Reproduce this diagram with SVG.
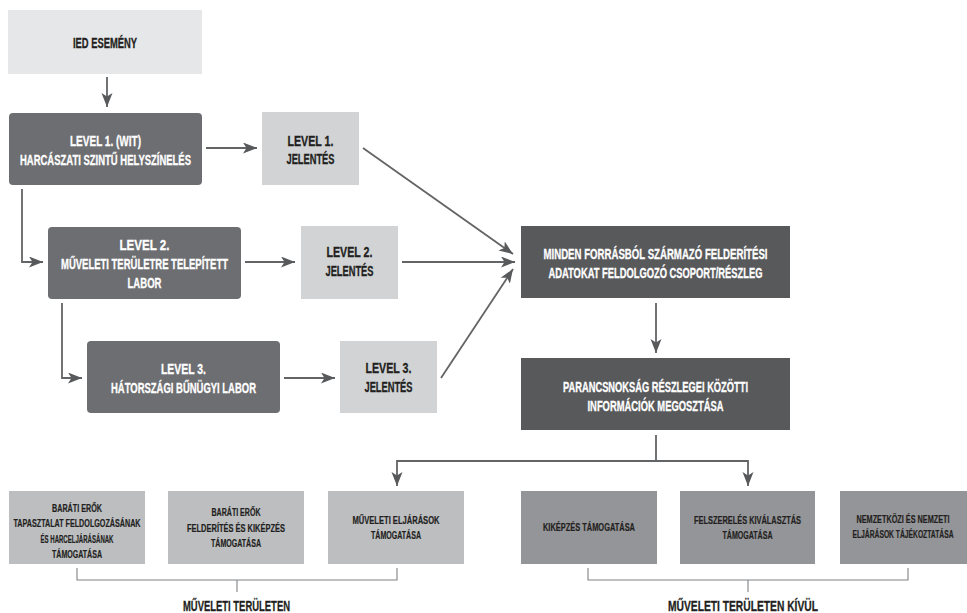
<svg xmlns="http://www.w3.org/2000/svg" width="967" height="613" viewBox="0 0 967 613">
<style>
  text { font-family: "Liberation Sans Narrow", "Liberation Sans", Arial, sans-serif; font-weight: bold; text-anchor: middle; stroke-width: 0.3; }
  .t { font-size: 14px; }
  .s { font-size: 10.5px; fill: #231f20; stroke: #231f20; stroke-width: 0.2; }
  .lab { font-size: 14.5px; fill: #231f20; stroke: #231f20; }
  .w { fill: #ffffff; stroke: #ffffff; }
  .d { fill: #231f20; stroke: #231f20; }
  .ied { fill: #e6e7e8; }
  .lvl { fill: #6d6e71; }
  .rep { fill: #d1d3d4; }
  .main { fill: #58595b; }
  .op { fill: #bcbec0; }
  .out { fill: #939598; }
  .con { fill: none; stroke: #636466; stroke-width: 1.8; }
  .br { fill: none; stroke: #808285; stroke-width: 1.1; }
</style>
<defs>
  <marker id="ah" markerUnits="userSpaceOnUse" markerWidth="15" markerHeight="12" refX="14" refY="5.5" orient="auto">
    <path d="M0,0 L14,5.5 L0,11 L3.5,5.5 z" fill="#58595b"/>
  </marker>
</defs>

<g id="ied">
  <rect class="ied" x="8" y="10" width="194" height="64"/>
  <text class="t d" x="105" y="47.5" textLength="64" lengthAdjust="spacingAndGlyphs">IED ESEMÉNY</text>
</g>

<g id="level1">
  <rect class="lvl" x="9" y="113" width="193" height="72" rx="4"/>
  <text class="t w" x="105.5" y="145.5" textLength="71" lengthAdjust="spacingAndGlyphs">LEVEL 1. (WIT)</text>
  <text class="t w" x="105.5" y="164.5" textLength="171" lengthAdjust="spacingAndGlyphs">HARCÁSZATI SZINTŰ HELYSZÍNELÉS</text>
</g>

<g id="report1">
  <rect class="rep" x="262" y="112" width="97" height="73"/>
  <text class="t d" x="310.5" y="145.5" textLength="46" lengthAdjust="spacingAndGlyphs">LEVEL 1.</text>
  <text class="t d" x="310.5" y="164" textLength="48" lengthAdjust="spacingAndGlyphs">JELENTÉS</text>
</g>

<g id="level2">
  <rect class="lvl" x="48" y="227" width="193" height="72" rx="4"/>
  <text class="t w" x="144.5" y="249.5" textLength="50" lengthAdjust="spacingAndGlyphs">LEVEL 2.</text>
  <text class="t w" x="144.5" y="268.5" textLength="167" lengthAdjust="spacingAndGlyphs">MŰVELETI TERÜLETRE TELEPÍTETT</text>
  <text class="t w" x="144.5" y="287.5" textLength="34" lengthAdjust="spacingAndGlyphs">LABOR</text>
</g>

<g id="report2">
  <rect class="rep" x="301" y="226" width="97" height="73"/>
  <text class="t d" x="349.5" y="257" textLength="46" lengthAdjust="spacingAndGlyphs">LEVEL 2.</text>
  <text class="t d" x="349.5" y="276" textLength="48" lengthAdjust="spacingAndGlyphs">JELENTÉS</text>
</g>

<g id="level3">
  <rect class="lvl" x="87" y="341" width="193" height="72" rx="4"/>
  <text class="t w" x="183.5" y="374" textLength="45" lengthAdjust="spacingAndGlyphs">LEVEL 3.</text>
  <text class="t w" x="183.5" y="393" textLength="145" lengthAdjust="spacingAndGlyphs">HÁTORSZÁGI BŰNÜGYI LABOR</text>
</g>

<g id="report3">
  <rect class="rep" x="340" y="341" width="97" height="72"/>
  <text class="t d" x="388.5" y="373" textLength="46" lengthAdjust="spacingAndGlyphs">LEVEL 3.</text>
  <text class="t d" x="388.5" y="392" textLength="48" lengthAdjust="spacingAndGlyphs">JELENTÉS</text>
</g>

<g id="allsource">
  <rect class="main" x="521" y="226" width="269" height="72"/>
  <text class="t w" x="655.5" y="259" textLength="224" lengthAdjust="spacingAndGlyphs">MINDEN FORRÁSBÓL SZÁRMAZÓ FELDERÍTÉSI</text>
  <text class="t w" x="655.5" y="278" textLength="214" lengthAdjust="spacingAndGlyphs">ADATOKAT FELDOLGOZÓ CSOPORT/RÉSZLEG</text>
</g>

<g id="sharing">
  <rect class="main" x="521" y="358" width="269" height="72"/>
  <text class="t w" x="655.5" y="391.5" textLength="185" lengthAdjust="spacingAndGlyphs">PARANCSNOKSÁG RÉSZLEGEI KÖZÖTTI</text>
  <text class="t w" x="655.5" y="410.5" textLength="136" lengthAdjust="spacingAndGlyphs">INFORMÁCIÓK MEGOSZTÁSA</text>
</g>

<g id="box-a">
  <rect class="op" x="9" y="491" width="136" height="73"/>
  <text class="s" x="77" y="511.5" textLength="50" lengthAdjust="spacingAndGlyphs">BARÁTI ERŐK</text>
  <text class="s" x="77" y="527" textLength="127" lengthAdjust="spacingAndGlyphs">TAPASZTALAT FELDOLGOZÁSÁNAK</text>
  <text class="s" x="77" y="542.5" textLength="73" lengthAdjust="spacingAndGlyphs">ÉS HARCELJÁRÁSÁNAK</text>
  <text class="s" x="77" y="558" textLength="50" lengthAdjust="spacingAndGlyphs">TÁMOGATÁSA</text>
</g>

<g id="box-b">
  <rect class="op" x="168" y="491" width="136" height="73"/>
  <text class="s" x="236" y="516" textLength="49" lengthAdjust="spacingAndGlyphs">BARÁTI ERŐK</text>
  <text class="s" x="236" y="531.5" textLength="98" lengthAdjust="spacingAndGlyphs">FELDERÍTÉS ÉS KIKÉPZÉS</text>
  <text class="s" x="236" y="547" textLength="50" lengthAdjust="spacingAndGlyphs">TÁMOGATÁSA</text>
</g>

<g id="box-c">
  <rect class="op" x="328" y="491" width="136" height="73"/>
  <text class="s" x="396" y="523.5" textLength="87" lengthAdjust="spacingAndGlyphs">MŰVELETI ELJÁRÁSOK</text>
  <text class="s" x="396" y="539" textLength="50" lengthAdjust="spacingAndGlyphs">TÁMOGATÁSA</text>
</g>

<g id="box-d">
  <rect class="out" x="521" y="491" width="136" height="73"/>
  <text class="s" x="589" y="531" textLength="92" lengthAdjust="spacingAndGlyphs">KIKÉPZÉS TÁMOGATÁSA</text>
</g>

<g id="box-e">
  <rect class="out" x="680" y="491" width="135" height="73"/>
  <text class="s" x="747.5" y="523.5" textLength="107" lengthAdjust="spacingAndGlyphs">FELSZERELÉS KIVÁLASZTÁS</text>
  <text class="s" x="747.5" y="539" textLength="50" lengthAdjust="spacingAndGlyphs">TÁMOGATÁSA</text>
</g>

<g id="box-f">
  <rect class="out" x="840" y="491" width="127" height="73"/>
  <text class="s" x="903" y="522.5" textLength="93" lengthAdjust="spacingAndGlyphs">NEMZETKÖZI ÉS NEMZETI</text>
  <text class="s" x="903" y="538" textLength="101" lengthAdjust="spacingAndGlyphs">ELJÁRÁSOK TÁJÉKOZTATÁSA</text>
</g>

<g id="connectors">
  <path class="con" d="M107,77 V107" marker-end="url(#ah)"/>
  <path class="con" d="M206,148 H257" marker-end="url(#ah)"/>
  <path class="con" d="M22,189 V262 H43" marker-end="url(#ah)"/>
  <path class="con" d="M245,262 H295" marker-end="url(#ah)"/>
  <path class="con" d="M62,303 V378 H82" marker-end="url(#ah)"/>
  <path class="con" d="M284,378 H335" marker-end="url(#ah)"/>
  <path class="con" d="M363,148 L513,254" marker-end="url(#ah)"/>
  <path class="con" d="M402,262 H515" marker-end="url(#ah)"/>
  <path class="con" d="M441,378 L513,269" marker-end="url(#ah)"/>
  <path class="con" d="M656,303 V353" marker-end="url(#ah)"/>
  <path class="con" d="M656,435 V461 H397 V486" marker-end="url(#ah)"/>
  <path class="con" d="M656,461 H748 V486" marker-end="url(#ah)"/>
  <path class="br" d="M77,568 V580 H397 V568 M237,580 V592"/>
  <path class="br" d="M588,568 V580 H908 V568 M748,580 V592"/>
</g>

<g id="labels">
  <text class="lab" x="236.5" y="611" textLength="107" lengthAdjust="spacingAndGlyphs">MŰVELETI TERÜLETEN</text>
  <text class="lab" x="743" y="611" textLength="150" lengthAdjust="spacingAndGlyphs">MŰVELETI TERÜLETEN KÍVÜL</text>
</g>
</svg>
